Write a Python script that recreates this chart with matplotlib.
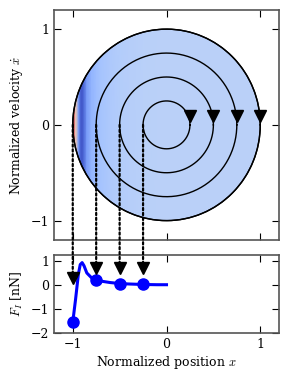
import matplotlib
matplotlib.use('Agg')
import matplotlib.pyplot as plt
import numpy as np
from matplotlib.patches import Circle, ConnectionPatch

plt.rcParams['font.family'] = 'DejaVu Serif'
plt.rcParams['mathtext.fontset'] = 'cm'
plt.rcParams['font.size'] = 9
plt.rcParams['xtick.direction'] = 'in'
plt.rcParams['ytick.direction'] = 'in'
plt.rcParams['xtick.top'] = True
plt.rcParams['ytick.right'] = True
plt.rcParams['xtick.major.size'] = 5
plt.rcParams['ytick.major.size'] = 5

# force profile along the normalized position
pos = [-1.0, -0.97, -0.94, -0.92, -0.90, -0.88, -0.85, -0.80, -0.75, -0.70,
       -0.60, -0.50, -0.40, -0.25, -0.10, 0.0]
force = [-1.55, -0.6, 0.45, 0.85, 0.93, 0.8, 0.5, 0.3, 0.22, 0.16,
         0.1, 0.06, 0.04, 0.02, 0.01, 0.01]
# force field shown in the disk (same profile, flat beyond x = 0)
field_x = pos + [1.0]
field_f = force + [0.01]

# sampled starting points (amplitudes) and their force
radii = [0.25, 0.5, 0.75, 1.0]
start_x = [-1.0, -0.75, -0.5, -0.25]
start_f = [-1.55, 0.22, 0.06, 0.03]
arrow_tip = [0.1, 0.5, 0.5, 0.5]

fig = plt.figure(figsize=(3.0, 3.7), dpi=100)
ax1 = fig.add_axes([0.18, 0.352, 0.75, 0.621])
ax2 = fig.add_axes([0.18, 0.10, 0.75, 0.211])

# colored disk
disk = Circle((0, 0), 1.0, facecolor='none', edgecolor='black', lw=1.0, zorder=3)
mesh = ax1.pcolormesh(field_x, [-1, 1], np.array([field_f, field_f]), cmap='coolwarm_r',
                      vmin=-1.6, vmax=1.0, shading='gouraud', zorder=1)
clip = Circle((0, 0), 1.0, transform=ax1.transData)
mesh.set_clip_path(clip)
ax1.add_patch(disk)

th = np.linspace(0, 2 * np.pi, 400)
for r in radii:
    ax1.plot(r * np.cos(th), r * np.sin(th), color='black', lw=1.0, zorder=4)
    ax1.plot([r], [0.09], marker='v', color='black', markersize=9, zorder=5)

ax1.set_xlim(-1.2, 1.2)
ax1.set_ylim(-1.2, 1.2)
ax1.set_xticks([-1, 0, 1])
ax1.set_yticks([-1, 0, 1])
ax1.set_xticklabels([])
ax1.set_ylabel(r'Normalized velocity $\dot{x}$')

ax2.plot(pos, force, color='blue', lw=2.2)
ax2.plot(start_x, start_f, 'o', color='blue', markersize=8)
ax2.set_xlim(-1.2, 1.2)
ax2.set_ylim(-2, 1.25)
ax2.set_xticks([-1, 0, 1])
ax2.set_yticks([-2, -1, 0, 1])
ax2.set_xlabel(r'Normalized position $x$', labelpad=2)
ax2.set_ylabel(r'$F_I$ [nN]')

for x0, tip in zip(start_x, arrow_tip):
    con = ConnectionPatch(xyA=(x0, 0), coordsA=ax1.transData,
                          xyB=(x0, tip + 0.3), coordsB=ax2.transData,
                          color='black', lw=1.6, linestyle=(0, (1, 1.2)))
    fig.add_artist(con)
    ax2.plot([x0], [tip + 0.2], marker='v', color='black', markersize=9, clip_on=False)

for ax in (ax1, ax2):
    for s in ax.spines.values():
        s.set_color('#555555')
        s.set_linewidth(1.2)

plt.savefig('out.png', dpi=100)
